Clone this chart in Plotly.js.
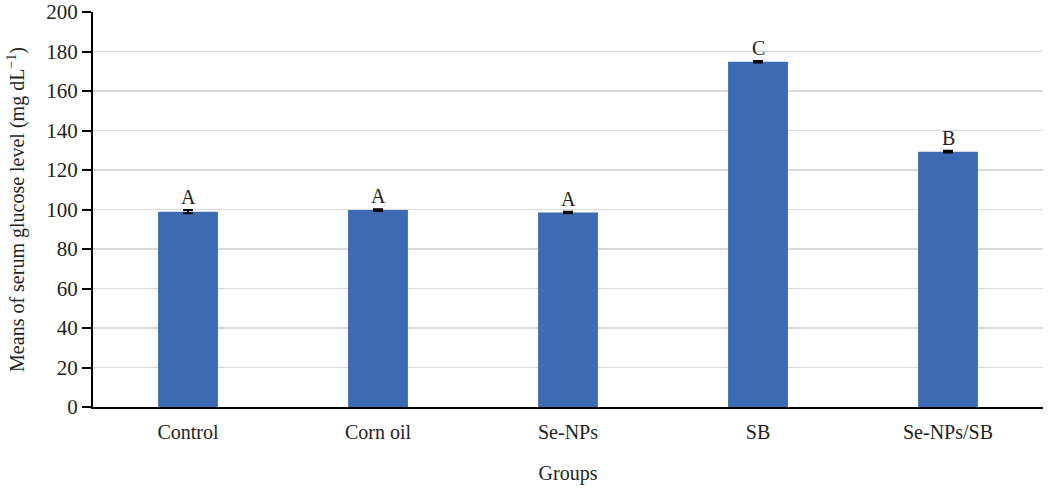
<!DOCTYPE html>
<html>
<head>
<meta charset="utf-8">
<script src="https://cdn.plot.ly/plotly-3.0.1.min.js"></script>
<style>html,body{margin:0;padding:0;background:#fff}#chart{width:1050px;height:491px}</style>
</head>
<body>
<div id="chart"></div>
<script>
const groups = ["Control", "Corn oil", "Se-NPs", "SB", "Se-NPs/SB"];
const means = [98.9, 99.7, 98.5, 174.8, 129.3];
const errors = [0.8, 0.4, 0.4, 0.4, 0.4];
const letters = ["A", "A", "A", "C", "B"];
const yTicks = [0, 20, 40, 60, 80, 100, 120, 140, 160, 180, 200];

const font = "Liberation Serif";
const txt = "#231f20";

const trace = {
  type: "bar",
  x: groups,
  y: means,
  marker: {color: "#3D6BB3"},
  error_y: {type: "data", array: errors, visible: true, color: "#000", thickness: 2, width: 5},
  hoverinfo: "none"
};

const annotations = groups.map((g, i) => ({
  x: g, y: means[i] + errors[i], xref: "x", yref: "y",
  text: letters[i], showarrow: false, yanchor: "bottom", yshift: 0,
  font: {family: font, size: 20, color: txt}
}));

const layout = {
  width: 1050, height: 491,
  margin: {l: 93, r: 7, t: 12, b: 84},
  paper_bgcolor: "#fff", plot_bgcolor: "#fff",
  bargap: 0.685,
  showlegend: false,
  font: {family: font, size: 21, color: txt},
  xaxis: {
    type: "category",
    showline: true, linecolor: "#000", linewidth: 2,
    ticks: "outside", ticklen: 6, tickcolor: "rgba(0,0,0,0)",
    showgrid: false,
    tickfont: {family: font, size: 20, color: txt},
    title: {text: "Groups", font: {family: font, size: 20, color: txt}, standoff: 24}
  },
  yaxis: {
    range: [0, 200], tickvals: yTicks, ticktext: yTicks.map(String),
    showline: true, linecolor: "#000", linewidth: 2,
    ticks: "outside", ticklen: 9, tickwidth: 2, tickcolor: "#000",
    showgrid: true, gridcolor: "#d9d9d9", gridwidth: 1.5,
    zeroline: false,
    tickfont: {family: font, size: 21, color: txt},
    title: {text: "Means of serum glucose level (mg dL<sup>\u22121</sup>)", font: {family: font, size: 20, color: txt}, standoff: 16}
  },
  annotations: annotations
};

Plotly.newPlot("chart", [trace], layout, {displayModeBar: false, staticPlot: true});
</script>
</body>
</html>
